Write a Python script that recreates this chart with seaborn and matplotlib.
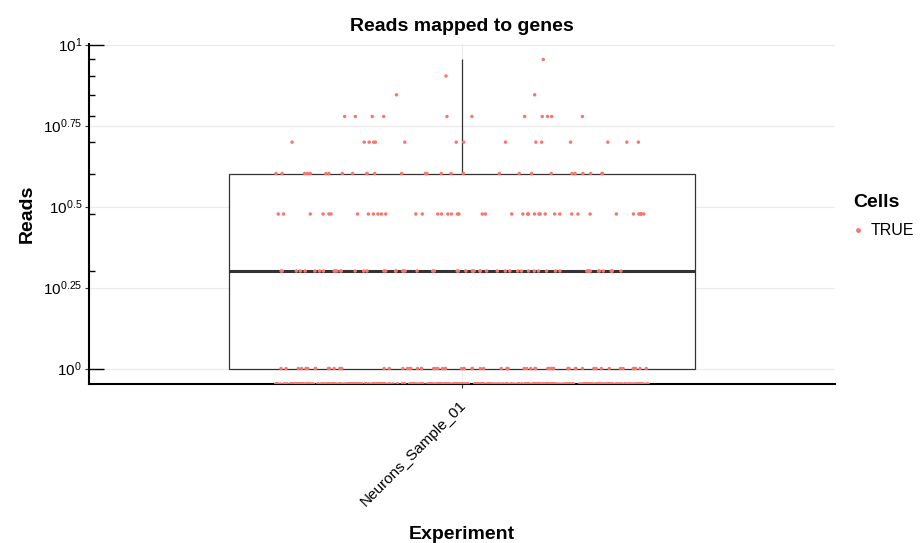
import numpy as np
import pandas as pd
import matplotlib
matplotlib.use('Agg')
import matplotlib.pyplot as plt
import seaborn as sns
from matplotlib.ticker import FixedLocator, NullLocator, NullFormatter
from matplotlib.transforms import ScaledTranslation

# Valores (contagem de celulas por numero de reads)
read_levels = [0, 1, 2, 3, 4, 5, 6, 7, 8, 9]
cell_counts = [400, 68, 58, 42, 28, 15, 11, 2, 1, 1]
experiment = 'Neurons_Sample_01'
cells_label = 'TRUE'
y_major = [10**0, 10**0.25, 10**0.5, 10**0.75, 10**1]
y_major_labels = [r'$10^{0}$', r'$10^{0.25}$', r'$10^{0.5}$', r'$10^{0.75}$', r'$10^{1}$']
log_ticks_long = [1, 10]
log_ticks_short = [2, 3, 4, 5, 6, 7, 8, 9]

df = pd.DataFrame({'Reads': np.repeat(read_levels, cell_counts)})
df['Experiment'] = experiment
df['Cells'] = cells_label

plt.rcParams['font.family'] = ['Liberation Sans', 'DejaVu Sans']
plt.rcParams['mathtext.fontset'] = 'custom'
plt.rcParams['mathtext.rm'] = 'Liberation Sans'
plt.rcParams['mathtext.default'] = 'regular'

fig = plt.figure(figsize=(9.21, 5.43), dpi=100)
ax = fig.add_axes([89/921, 1 - 384/543, 746/921, 340/543])
ax.set_yscale('log')

# limites como no ggplot (expansao de 5% na escala log)
positive = df[df['Reads'] > 0]
lo = np.log10(positive['Reads'].min())
hi = np.log10(positive['Reads'].max())
pad = 0.05 * (hi - lo)
ymin, ymax = 10**(lo - pad), 10**(hi + pad)

# zeros vao para a borda inferior (log10(0) = -Inf)
df['y_plot'] = df['Reads'].where(df['Reads'] > 0, ymin)

sns.boxplot(data=positive, x='Experiment', y='Reads', width=0.75, color='white',
            linecolor='#333333', linewidth=0.9, showfliers=False,
            medianprops=dict(color='#333333', linewidth=2.2),
            capprops=dict(linewidth=0), ax=ax)

np.random.seed(3)
sns.stripplot(data=df, x='Experiment', y='y_plot', hue='Cells', palette=['#F8766D'],
              jitter=0.3, size=2.5, linewidth=0, zorder=3, ax=ax)

ax.set_xlim(-0.6, 0.6)
ax.set_ylim(ymin, ymax)

ax.set_yticks(y_major, y_major_labels)
ax.yaxis.set_minor_locator(NullLocator())
ax.grid(True, which='major', color='#ebebeb', linewidth=0.8)
ax.set_axisbelow(True)

for s in ['top', 'right']:
    ax.spines[s].set_visible(False)
for s in ['left', 'bottom']:
    ax.spines[s].set_linewidth(1.5)
    ax.spines[s].set_color('black')

ax.tick_params(axis='both', which='major', direction='out', length=3, width=0.8,
               color='#333333', labelsize=11, labelcolor='black', pad=2)
ax.tick_params(axis='x', pad=7)

# log ticks por dentro do eixo
sec = ax.secondary_yaxis('left')
sec.set_zorder(5)
sec.set_yticks(log_ticks_long)
sec.yaxis.set_minor_locator(FixedLocator(log_ticks_short))
sec.yaxis.set_minor_formatter(NullFormatter())
sec.tick_params(which='major', direction='in', length=11, width=1.0, color='black')
sec.tick_params(which='minor', direction='in', length=4.3, width=1.0, color='black')
sec.tick_params(which='both', labelleft=False)
sec.spines['left'].set_visible(False)

shift = ScaledTranslation(-3/100, 0, fig.dpi_scale_trans)
for lab in ax.get_xticklabels():
    lab.set_rotation(45)
    lab.set_ha('right')
    lab.set_rotation_mode('anchor')
    lab.set_transform(lab.get_transform() + shift)

ax.set_title('Reads mapped to genes', fontsize=14, fontweight='bold', pad=9.5)
ax.set_ylabel('Reads', fontsize=14, fontweight='bold', labelpad=5)
ax.set_xlabel('Experiment', fontsize=14, fontweight='bold', labelpad=12.5)

sns.move_legend(ax, 'center left', bbox_to_anchor=(1.005, 0.494), frameon=False,
                title='Cells', fontsize=11.5,
                title_fontproperties={'weight': 'bold', 'size': 14},
                alignment='left', handletextpad=0.5, handlelength=0.6,
                labelspacing=0.8)
leg = ax.get_legend()
for h in leg.legend_handles:
    if hasattr(h, 'set_markersize'):
        h.set_markersize(3.5)
    else:
        h.set_sizes([12])

fig.savefig('out.png', dpi=100)
